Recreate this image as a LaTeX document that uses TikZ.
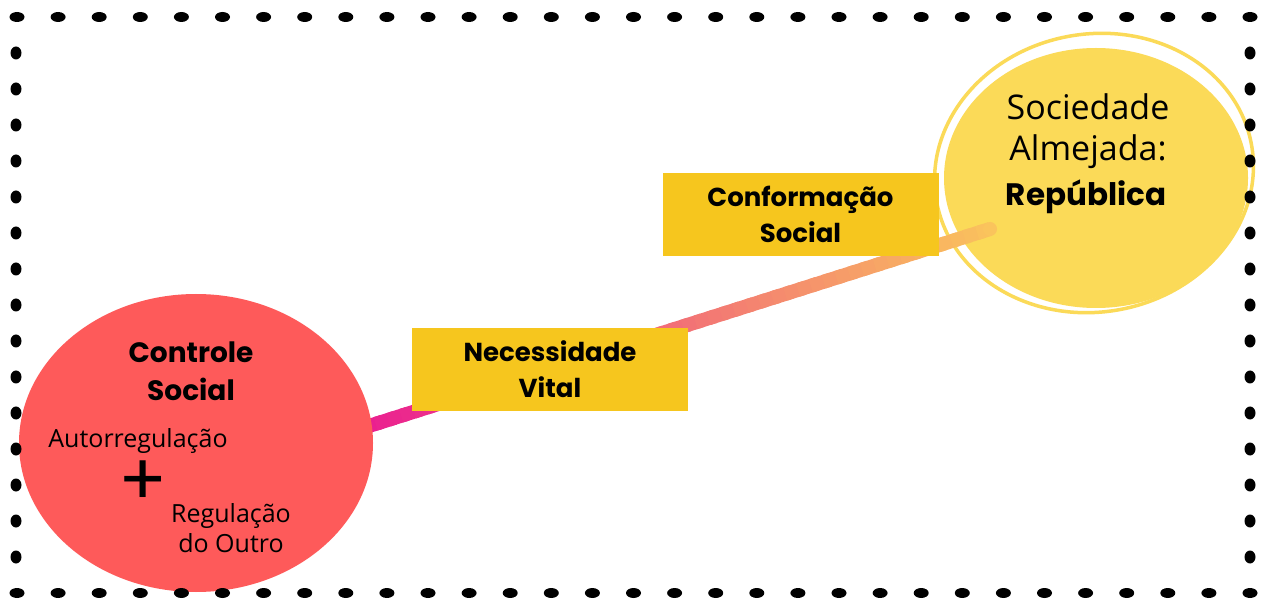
\documentclass[tikz,border=0pt]{standalone}
\usepackage{fontspec}
\setmainfont{Open Sans}
\newfontfamily\headfont{Poppins}
\usepackage{tikz}
\usetikzlibrary{shapes.geometric, positioning, calc}
\definecolor{controle}{RGB}{254, 90, 90}
\definecolor{sociedade}{RGB}{251, 218, 88}
\definecolor{caixa}{RGB}{246, 198, 30}
\definecolor{lineA}{RGB}{234, 28, 145}
\definecolor{lineB}{RGB}{250, 196, 92}
\tikzstyle{blob} = [ellipse, draw=none, inner sep=0]
\tikzstyle{connector} = [line width=14pt, line cap=butt]
\tikzstyle{headtext} = [font=\headfont\bfseries\fontsize{28pt}{38pt}\selectfont, align=center, inner sep=0]
\tikzstyle{bodytext} = [font=\fontsize{25pt}{30pt}\selectfont, align=center, inner sep=0]
\newcommand{\tikzboxnode}{\node[
  draw=none, rectangle, minimum width=276pt, minimum height=83pt, fill=caixa, inner sep=0,
  align=center, font=\headfont\bfseries\fontsize{26pt}{36pt}\selectfont
]}

\begin{document}
\begin{tikzpicture}[x=1pt, y=-1pt]
    \useasboundingbox (0,0) rectangle (1261,601);
    \fill[white] (0,0) rectangle (1261,601);

    % circles
    \node[blob, draw=sociedade, line width=3.5pt, minimum width=320pt, minimum height=278pt, rotate=10] (ring) at (1094,173) {};
    \node[blob, fill=sociedade, minimum width=304pt, minimum height=260pt] (rep) at (1096,178) {};

    % connector
    \coordinate (lstart) at (350,432);
    \coordinate (lend)   at (990,229);
    \foreach \i in {0,...,49}{
      \pgfmathsetmacro{\ta}{\i/50}
      \pgfmathsetmacro{\tb}{min((\i+1.5)/50,1)}
      \pgfmathtruncatemacro{\pc}{2*\i}
      \draw[connector, color=lineB!\pc!lineA] ($(lstart)!\ta!(lend)$) -- ($(lstart)!\tb!(lend)$);
    }
    \fill[lineB] (lend) circle (7pt);

    \node[blob, fill=controle, minimum width=354pt, minimum height=298pt] (ctrl) at (196,443) {};

    % boxes
    \tikzboxnode at (550,369.5)   (nec)  {Necessidade\\Vital};
    \tikzboxnode at (800.5,214.5) (conf) {Conformação\\Social};

    % texts
    \node[headtext] (ctrltitle) at (191,371) {Controle\\Social};
    \node[bodytext] (autoreg)   at (138,441) {Autorregulação};
    \node[font=\headfont\fontsize{72pt}{72pt}\selectfont, inner sep=0] (plus) at (143,483) {+};
    \node[bodytext] (regout)    at (231,528) {Regulação\\do Outro};
    \node[font=\fontsize{34pt}{41pt}\selectfont, align=center, inner sep=0] (soctext) at (1088,131) {Sociedade\\Almejada:};
    \node[headtext, font=\headfont\bfseries\fontsize{31pt}{31pt}\selectfont] (reptext) at (1086,197) {República};

    % border
    \foreach \i in {0,...,30}{
      \fill (17+\i*41.1,17)  ellipse (7.5pt and 5pt);
      \fill (17+\i*41.1,593) ellipse (7.5pt and 5pt);
    }
    \foreach \i in {1,...,15}{
      \fill (16,17+\i*36)   ellipse (5.5pt and 6.5pt);
      \fill (1250,17+\i*36) ellipse (5.5pt and 6.5pt);
    }
\end{tikzpicture}
\end{document}
